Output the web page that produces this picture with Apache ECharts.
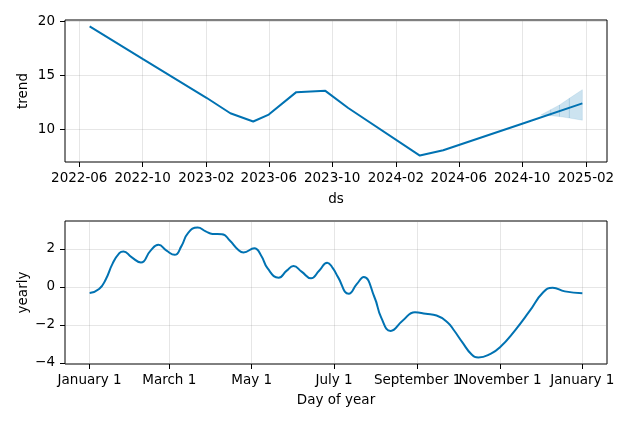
<!DOCTYPE html>
<html><head><meta charset="utf-8">
<script src="https://cdn.jsdelivr.net/npm/echarts@6/dist/echarts.min.js"></script>
<style>html,body{margin:0;padding:0;background:#fff}#c{width:634px;height:422px}</style>
</head><body><div id="c"></div>
<script>
// ---- trend panel data ----
const trendDates  = ['2022-06-21','2022-10-01','2023-02-01','2023-03-19','2023-05-02','2023-06-01','2023-07-24','2023-09-18','2023-11-01','2024-03-18','2024-05-02','2024-10-01','2025-01-25'];
const trendValues = [19.53, 16.54, 12.95, 11.52, 10.76, 11.40, 13.47, 13.59, 12.01, 7.62, 8.11, 10.56, 12.43];
const bandDates   = ['2024-11-06','2024-11-25','2024-12-12','2024-12-31','2025-01-25'];
const bandLower   = [11.36, 11.30, 11.22, 11.08, 10.88];
const bandUpper   = [11.36, 11.85, 12.29, 12.90, 13.70];
const trendTickDates = ['2022-06-01','2022-10-01','2023-02-01','2023-06-01','2023-10-01','2024-02-01','2024-06-01','2024-10-01','2025-02-01'];
const trendYTicks = [10, 15, 20];

// ---- yearly panel data ----
const yearlyDay   = [0, 7, 12, 17, 22, 25, 31, 38, 45, 51, 57, 63, 68, 73, 80, 86, 91, 98, 104, 110, 114, 122, 127, 132, 140, 146, 151, 157, 164, 170, 176, 180, 184, 192, 198, 203, 211, 216, 223, 232, 241, 249, 257, 265, 270, 276, 283, 288, 297, 304, 315, 326, 336, 343, 352, 365];
const yearlyValue = [-0.33, -0.12, 0.40, 1.22, 1.77, 1.86, 1.56, 1.28, 1.89, 2.21, 1.90, 1.68, 2.14, 2.84, 3.12, 2.92, 2.78, 2.77, 2.42, 1.95, 1.81, 2.03, 1.65, 0.95, 0.48, 0.85, 1.09, 0.80, 0.45, 0.84, 1.27, 1.00, 0.51, -0.37, 0.15, 0.51, -0.55, -1.62, -2.32, -1.77, -1.34, -1.42, -1.51, -1.86, -2.30, -2.91, -3.56, -3.72, -3.53, -3.18, -2.30, -1.27, -0.29, -0.05, -0.24, -0.34];
const yearlyTickDays   = [0, 59, 120, 181, 243, 304, 365];
const yearlyTickLabels = ['January 1', 'March 1', 'May 1', 'July 1', 'September 1', 'November 1', 'January 1'];
const yearlyYTicks = [-4, -2, 0, 2];

function ts(s){ const p = s.split('-'); return Date.UTC(+p[0], +p[1]-1, +p[2]); }
function ym(v){ const d = new Date(v); return d.getUTCFullYear() + '-' + String(d.getUTCMonth()+1).padStart(2,'0'); }
const padMin = e => e.min - 0.05*(e.max - e.min);
const padMax = e => e.max + 0.05*(e.max - e.min);

const FONT = 'DejaVu Sans';
const FS = 13.5;
const LINE = '#0072B2';
const GRIDC = 'rgba(128,128,128,0.2)';
const trendTickTs = trendTickDates.map(ts);

// band segments: [x0, lo0, hi0, x1, lo1, hi1]
const bandSegs = [];
for (let i = 0; i < bandDates.length - 1; i++) {
  bandSegs.push([ts(bandDates[i]), bandLower[i], bandUpper[i], ts(bandDates[i+1]), bandLower[i+1], bandUpper[i+1]]);
}

function axisCommon(){
  return {
    axisLine: { show: false, onZero: false },
    splitLine: { show: true, lineStyle: { color: GRIDC, width: 1 } },
    nameTextStyle: { fontFamily: FONT, fontSize: FS, color: '#000' },
    nameMoveOverlap: false,
  };
}
function tick(vals){ return { customValues: vals, show: true, length: 5, inside: false, lineStyle: { color: '#000', width: 1 } }; }

const chart = echarts.init(document.getElementById('c'), null, { renderer: 'canvas' });
chart.setOption({
  animation: false,
  backgroundColor: '#fff',
  grid: [
    { left: 65, right: 27, top: 20, height: 142, show: true, borderColor: '#000', borderWidth: 1, backgroundColor: 'transparent' },
    { left: 65, right: 27, top: 221, height: 143, show: true, borderColor: '#000', borderWidth: 1, backgroundColor: 'transparent' }
  ],
  xAxis: [
    Object.assign(axisCommon(), {
      type: 'value', gridIndex: 0, min: padMin, max: padMax, scale: true,
      name: 'ds', nameLocation: 'middle', nameGap: 30,
      axisLabel: { customValues: trendTickTs, formatter: v => ym(v), fontFamily: FONT, fontSize: FS, color: '#000', margin: 9, interval: 0, hideOverlap: false },
      axisTick: tick(trendTickTs)
    }),
    Object.assign(axisCommon(), {
      type: 'value', gridIndex: 1, min: padMin, max: padMax, scale: true,
      name: 'Day of year', nameLocation: 'middle', nameGap: 29,
      axisLabel: { customValues: yearlyTickDays, formatter: v => { const i = yearlyTickDays.indexOf(Math.round(v)); return i >= 0 ? yearlyTickLabels[i] : ''; }, fontFamily: FONT, fontSize: FS, color: '#000', margin: 9, interval: 0, hideOverlap: false },
      axisTick: tick(yearlyTickDays)
    })
  ],
  yAxis: [
    Object.assign(axisCommon(), {
      type: 'value', gridIndex: 0, min: padMin, max: padMax, scale: true,
      name: 'trend', nameLocation: 'middle', nameGap: 35, nameRotate: 90,
      axisLabel: { customValues: trendYTicks, fontFamily: FONT, fontSize: FS, color: '#000', margin: 10 },
      axisTick: tick(trendYTicks)
    }),
    Object.assign(axisCommon(), {
      type: 'value', gridIndex: 1, min: padMin, max: padMax, scale: true,
      name: 'yearly', nameLocation: 'middle', nameGap: 35, nameRotate: 90,
      axisLabel: { customValues: yearlyYTicks, formatter: v => (v < 0 ? '\u2212' + Math.abs(v) : String(v)), fontFamily: FONT, fontSize: FS, color: '#000', margin: 10 },
      axisTick: tick(yearlyYTicks)
    })
  ],
  series: [
    { type: 'custom', xAxisIndex: 0, yAxisIndex: 0, silent: true, z: 3,
      encode: { x: [0, 3], y: [1, 2, 4, 5] },
      renderItem: (params, api) => {
        const p0l = api.coord([api.value(0), api.value(1)]);
        const p0h = api.coord([api.value(0), api.value(2)]);
        const p1l = api.coord([api.value(3), api.value(4)]);
        const p1h = api.coord([api.value(3), api.value(5)]);
        return { type: 'polygon', shape: { points: [p0l, p1l, p1h, p0h] },
                 style: { fill: 'rgba(0,114,178,0.2)', stroke: 'rgba(0,114,178,0.2)', lineWidth: 0.5 } };
      },
      data: bandSegs },
    { type: 'line', xAxisIndex: 0, yAxisIndex: 0, symbol: 'none', z: 5,
      lineStyle: { color: LINE, width: 2 },
      data: trendDates.map((d, i) => [ts(d), trendValues[i]]) },
    { type: 'line', xAxisIndex: 1, yAxisIndex: 1, symbol: 'none', smooth: 0.5,
      lineStyle: { color: LINE, width: 2 },
      data: yearlyDay.map((d, i) => [d, yearlyValue[i]]) }
  ]
});
</script>
</body></html>
